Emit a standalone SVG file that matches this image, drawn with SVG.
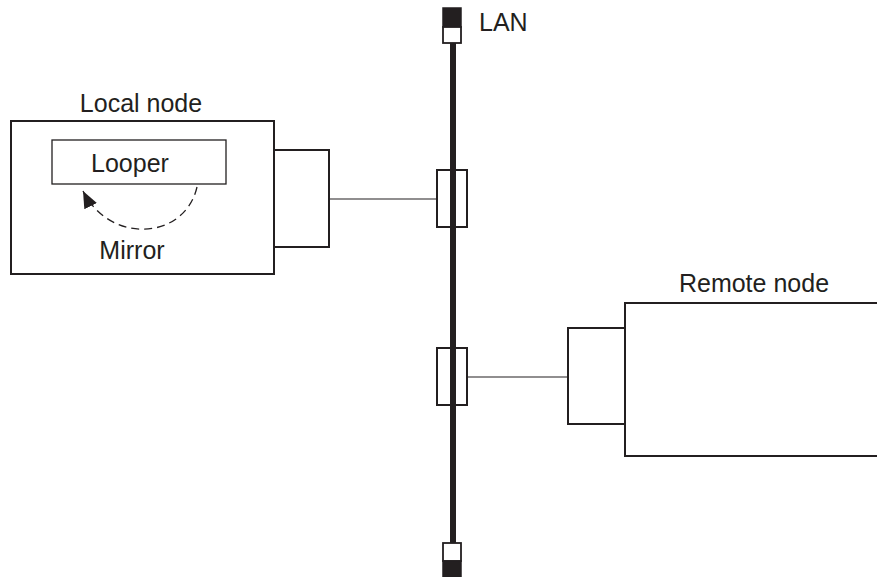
<svg xmlns="http://www.w3.org/2000/svg" width="877" height="577" viewBox="0 0 877 577">
<style>
.box{fill:#fff;stroke:#231f20;stroke-width:2}
.thin{fill:none;stroke:#231f20;stroke-width:1.3}
.lbl{font-family:"Liberation Sans",Arial,sans-serif;font-size:25px;fill:#231f20}
</style>
<defs>
<marker id="ah" markerWidth="18" markerHeight="16" refX="17" refY="8" orient="auto" markerUnits="userSpaceOnUse" viewBox="0 0 18 16">
<path d="M0,1 L17,8 L0,15 z" fill="#231f20"/>
</marker>
</defs>
<rect width="877" height="577" fill="#fff"/>
<g id="connectors">
<line x1="453" y1="43" x2="453" y2="543" stroke="#231f20" stroke-width="6"/>
<line x1="329" y1="199" x2="437" y2="199" stroke="#231f20" stroke-width="1.2"/>
<line x1="467" y1="377" x2="568" y2="377" stroke="#231f20" stroke-width="1.2"/>
</g>
<g id="lan">
<rect x="443" y="8" width="18" height="19" fill="#231f20" stroke="#231f20" stroke-width="1.5"/>
<rect x="443" y="27" width="18" height="16" fill="#fff" stroke="#231f20" stroke-width="1.8"/>
<rect x="443" y="543" width="18" height="18" fill="#fff" stroke="#231f20" stroke-width="1.8"/>
<rect x="443" y="561" width="18" height="16" fill="#231f20" stroke="#231f20" stroke-width="1.5"/>
<text class="lbl" x="479" y="31">LAN</text>
</g>
<g id="tap1">
<rect x="437" y="170" width="30" height="57" fill="none" stroke="#231f20" stroke-width="2"/>
</g>
<g id="tap2">
<rect x="437" y="348" width="30" height="57" fill="none" stroke="#231f20" stroke-width="2"/>
</g>
<g id="local">
<rect class="box" x="11" y="121" width="263" height="153"/>
<rect class="box" x="274" y="150" width="55" height="97"/>
<text class="lbl" x="141" y="112" text-anchor="middle">Local node</text>
<rect class="thin" x="52" y="140" width="174" height="44"/>
<text class="lbl" x="130" y="172" text-anchor="middle">Looper</text>
<path d="M197,187 C185,240 110,245 83,191" fill="none" stroke="#231f20" stroke-width="1.3" stroke-dasharray="8,5" marker-end="url(#ah)"/>
<text class="lbl" x="132" y="259" text-anchor="middle">Mirror</text>
</g>
<g id="remote">
<rect class="box" x="625" y="303" width="260" height="153"/>
<rect class="box" x="568" y="328" width="57" height="96"/>
<text class="lbl" x="754" y="292" text-anchor="middle">Remote node</text>
</g>
</svg>
